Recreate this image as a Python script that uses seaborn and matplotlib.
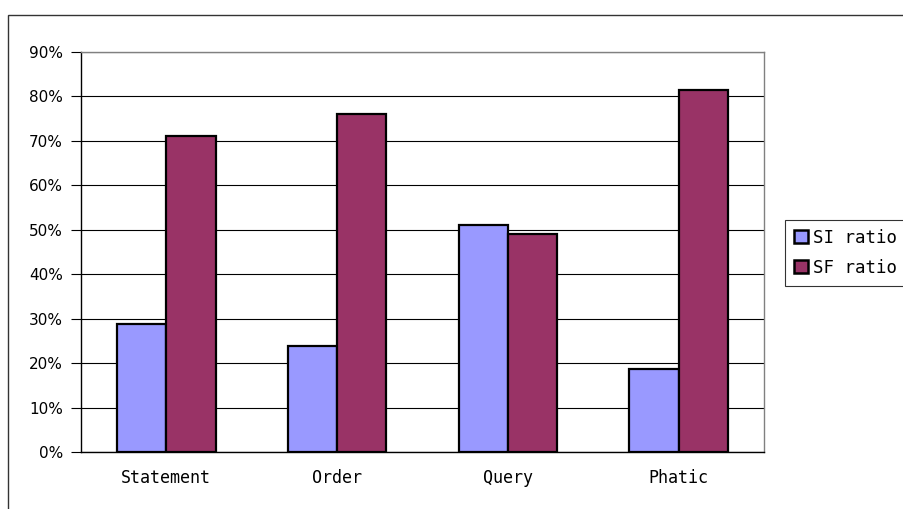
import matplotlib
matplotlib.use("Agg")
import matplotlib.pyplot as plt
import matplotlib.patches as mpatches
import seaborn as sns
import pandas as pd
import numpy as np

categories = ["Statement", "Order", "Query", "Phatic"]
si_ratio = [0.289, 0.239, 0.510, 0.186]
sf_ratio = [0.711, 0.761, 0.490, 0.814]
series_names = ["SI ratio", "SF ratio"]
y_ticks = [0.0, 0.1, 0.2, 0.3, 0.4, 0.5, 0.6, 0.7, 0.8, 0.9]
y_tick_labels = ["0%", "10%", "20%", "30%", "40%", "50%", "60%", "70%", "80%", "90%"]

df = pd.DataFrame({
    "category": categories * 2,
    "series": [series_names[0]] * 4 + [series_names[1]] * 4,
    "value": si_ratio + sf_ratio,
})

sns.set_theme(style="white")
plt.rcParams["font.family"] = ["DejaVu Sans"]

W, H = 904, 509
fig = plt.figure(figsize=(W / 100, H / 100), dpi=100)
fig.patch.set_facecolor("white")

# outer chart border (extends past right/bottom edges)
fig.patches.append(mpatches.Rectangle((8 / W, -0.1), 1.2, 1 - 15 / H + 0.1,
                                      transform=fig.transFigure, fill=False,
                                      edgecolor="#333333", linewidth=1.0))

ax = fig.add_axes([81 / W, 1 - 452 / H, (764 - 81) / W, (452 - 52) / H])
palette = {series_names[0]: "#9999FF", series_names[1]: "#993366"}
sns.barplot(data=df, x="category", y="value", hue="series", palette=palette,
            width=0.578, gap=0, edgecolor="black", linewidth=1.6, saturation=1,
            ax=ax, zorder=3)

ax.set_ylim(0, 0.9)
ax.set_xlim(-0.5, 3.5)
ax.set_yticks(y_ticks)
ax.set_yticklabels(y_tick_labels, fontsize=11)
ax.set_xticks([-0.5, 0.5, 1.5, 2.5, 3.5])
ax.set_xticklabels([])
ax.set_xticks(range(4), minor=True)
ax.set_xticklabels(categories, minor=True, fontsize=12, family="DejaVu Sans Mono")
ax.tick_params(axis="x", which="minor", length=0, pad=12)
ax.tick_params(axis="x", which="major", direction="inout", length=12, width=0.8, color="black")
ax.tick_params(axis="y", direction="out", length=7, width=0.8, color="black", pad=6, left=True)
ax.set_xlabel("")
ax.set_ylabel("")
ax.yaxis.grid(True, color="black", linewidth=0.8)
ax.set_axisbelow(True)
for s in ["left", "bottom"]:
    ax.spines[s].set_color("black")
    ax.spines[s].set_linewidth(1.0)
for s in ["top", "right"]:
    ax.spines[s].set_color("#808080")
    ax.spines[s].set_linewidth(1.0)
for t in ax.get_yticklabels() + ax.get_xticklabels(minor=True):
    t.set_color("black")

handles, labels = ax.get_legend_handles_labels()
if ax.legend_:
    ax.legend_.remove()
leg = fig.legend(handles, labels, loc="upper left",
                 bbox_to_anchor=(785 / W, 1 - 220 / H),
                 bbox_transform=fig.transFigure,
                 prop={"family": "DejaVu Sans Mono", "size": 12.5},
                 frameon=True, fancybox=False, edgecolor="black",
                 handlelength=0.8, handleheight=0.8, handletextpad=0.3,
                 borderpad=0.5, labelspacing=0.7, borderaxespad=0)
leg.get_frame().set_linewidth(0.8)
for t in leg.get_texts():
    t.set_color("black")
for h in leg.legend_handles:
    h.set_edgecolor("black")
    h.set_linewidth(1.8)

fig.savefig("out.png", dpi=100)
